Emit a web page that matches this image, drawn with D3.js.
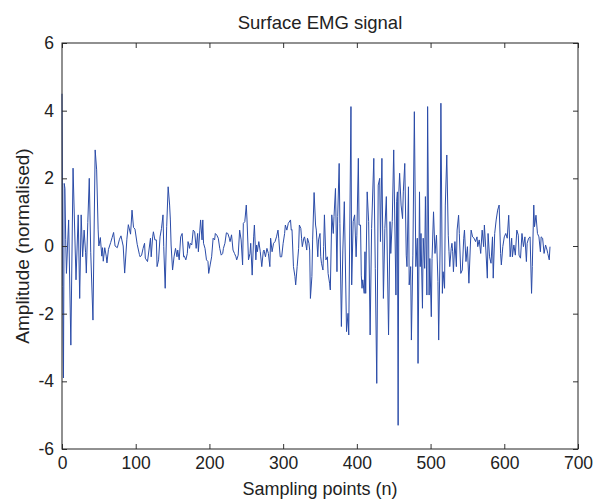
<!DOCTYPE html>
<html>
<head>
<meta charset="utf-8">
<script src="https://cdn.jsdelivr.net/npm/d3@7"></script>
<style>
  html, body { margin: 0; padding: 0; background: #fff; }
  svg { display: block; }
  text { font-family: "Liberation Sans", Arial, Helvetica, sans-serif; fill: #222; }
</style>
</head>
<body>
<svg id="chart" width="598" height="500"></svg>
<script>
// ---- data ----
const title = "Surface EMG signal";
const xLabel = "Sampling points (n)";
const yLabel = "Amplitude (normalised)";
const xTicks = [0, 100, 200, 300, 400, 500, 600, 700];
const yTicks = [-6, -4, -2, 0, 2, 4, 6];

const sampleIndex = [
  0,1,2,3,4,5,6,9,12,15,19,22,24,26,28,30,32,33,35,37,39,42,45,47,49,50,52,54,55,56,58,60,61,63,66,68,70,72,75,78,80,83,85,88,90,93,95,97,99,102,105,
  106,108,110,112,113,116,118,120,121,123,124,126,128,129,131,133,135,137,138,140,142,144,146,147,148,150,152,154,156,157,159,161,163,165,166,168,170,171,173,174,176,178,180,182,184,185,187,188,190,191,192,194,196,198,199,201,203,205,207,208,210,212,214,216,218,219,221,223,225,227,228,
  230,232,234,236,237,239,241,243,245,246,248,250,251,253,255,256,258,260,261,263,264,265,267,269,271,273,274,276,278,280,282,283,285,287,289,291,293,294,296,298,300,302,303,305,307,
  310,311,312,314,316,317,319,321,322,324,325,326,328,329,331,332,333,335,336,337,339,340,342,344,345,347,348,350,351,352,354,355,356,358,360,361,363,364,366,368,369,371,373,374,376,377,379,381,383,386,
  388,389,392,393,395,397,399,400,402,403,405,406,407,408,410,411,412,414,416,418,420,423,425,427,429,431,432,434,436,438,440,443,445,446,448,450,453,454,455,456,457,
  458,460,462,463,465,467,468,470,471,473,474,476,478,480,482,483,485,486,487,489,490,492,493,495,496,498,499,501,502,504,506,508,510,511,513,514,516,517,519,520,522,524,525,526,528,529,530,531,533,
  535,536,538,539,541,543,545,546,548,550,552,554,555,557,559,561,563,564,566,568,570,572,573,575,577,578,580,582,584,585,587,589,591,593,595,596,598,600,602,604,606,608,610,611,613,615,617,619,620,
  622,624,626,628,630,631,633,635,637,638,640,641,643,645,647,649,650,652,654,656,658,659,661,662
];

const amplitude = [
  4.5,-1.2,-3.9,1.85,1.7,0.2,-0.81,0.77,-2.93,2.3,-1.0,0.92,-1.55,0.92,-0.32,0.47,-0.2,-0.8,0.7,2.0,-0.2,-2.19,2.84,2.25,0.5,0.0,0.25,-0.3,-0.05,-0.45,-0.05,-0.3,-0.5,-0.1,0.1,0.25,0.4,0.0,-0.05,0.2,0.3,0.0,-0.8,0.2,0.63,0.35,1.06,0.55,0.5,0.05,-0.25,
  -0.32,-0.27,-0.07,0.08,-0.36,-0.46,-0.12,0.23,-0.32,0.27,0.42,0.18,0.18,-0.61,-0.41,0.27,0.52,0.92,-0.02,-1.25,0.57,1.75,1.21,0.77,0.03,-0.71,-0.32,-0.07,-0.32,-0.12,-0.41,0.27,0.37,-0.32,-0.3,-0.41,-0.22,0.13,-0.07,0.08,0.03,0.47,0.42,-0.07,0.37,-0.17,0.47,0.77,0.18,0.77,0.08,-0.07,-0.41,-0.46,-0.81,-0.56,-0.32,0.23,0.18,0.37,0.32,0.23,-0.07,-0.27,-0.22,-0.07,0.08,0.39,0.37,0.23,0.13,
  0.33,-0.12,-0.22,-0.32,-0.41,-0.27,0.47,0.18,-0.56,0.67,0.72,1.21,0.77,-0.41,-0.22,0.08,-0.86,0.27,0.62,-0.41,0.03,-0.17,0.13,-0.17,-0.61,-0.17,-0.12,-0.32,-0.07,-0.22,-0.61,0.23,-0.17,0.08,0.13,0.27,0.47,0.23,-0.32,-0.32,0.08,0.37,0.62,0.47,0.67,
  0.77,0.47,0.49,-0.61,-0.9,-1.15,-0.61,-0.07,0.62,0.52,0.23,-0.02,0.23,0.27,0.03,-0.12,0.23,0.08,-0.12,-1.55,-0.9,0.18,1.58,0.62,0.47,-0.32,0.18,0.37,-0.32,-0.51,-0.71,-0.02,0.92,-0.41,-0.32,-0.81,-1.1,-1.3,0.92,0.37,0.87,1.7,-0.76,0.87,2.44,0.67,-2.38,-0.12,1.31,-2.53,
  -1.99,-2.63,4.12,-1.15,0.72,0.92,-0.32,0.32,2.59,0.62,0.62,-0.86,-1.25,-1.0,-1.4,-0.17,-1.4,1.6,0.72,-2.63,0.52,2.59,-0.66,-4.06,1.8,2.0,0.13,2.59,-1.55,0.52,1.46,-2.63,0.72,-0.22,0.72,2.84,-1.45,1.31,1.6,-5.3,1.6,
  2.15,1.21,0.81,1.6,2.44,-0.27,-0.61,1.75,-1.15,-0.61,-2.78,-0.27,3.97,-0.61,0.23,-3.47,1.6,-0.61,0.37,-1.84,0.23,-0.66,1.46,-1.45,4.12,-1.45,-0.37,-2.09,-0.37,1.01,-0.22,0.32,-1.05,-2.78,0.03,4.22,-1.4,-0.76,-1.25,1.21,2.69,0.32,-0.17,-0.61,-0.07,0.08,-0.17,-0.76,0.13,
  -0.61,0.47,0.91,0.37,-0.81,-0.71,0.23,0.47,-0.46,-0.02,-1.1,0.03,0.47,0.27,0.23,0.13,0.27,-0.02,0.18,-0.22,0.47,-0.02,0.62,-0.12,-0.95,0.37,-0.32,-0.51,0.27,-0.95,0.37,0.77,1.06,1.21,-0.22,-0.56,-0.02,0.27,0.37,0.23,0.91,-0.32,0.23,-0.32,0.03,-0.27,0.47,0.32,-0.27,
  -0.36,0.37,-0.02,0.27,-0.46,0.08,0.23,0.27,-1.4,-0.61,1.21,0.57,0.91,0.37,0.27,-0.17,0.27,0.23,-0.22,0.03,-0.12,-0.22,-0.41,-0.02
];

// ---- layout ----
const svg = d3.select("#chart");
const margin = { left: 62, right: 20, top: 43, bottom: 51 };
const W = 598, H = 500;
const plotW = W - margin.left - margin.right;
const plotH = H - margin.top - margin.bottom;

const x = d3.scaleLinear().domain([0, 700]).range([margin.left, margin.left + plotW]);
const y = d3.scaleLinear().domain([-6, 6]).range([margin.top + plotH, margin.top]);

const data = sampleIndex.map((n, i) => ({ n, v: amplitude[i] }));

// signal line
const line = d3.line().x(d => x(d.n)).y(d => y(d.v));
svg.append("path")
  .datum(data)
  .attr("d", line)
  .attr("fill", "none")
  .attr("stroke", "#2b4ca8")
  .attr("stroke-width", 1)
  .attr("stroke-linejoin", "miter");

// axes (MATLAB style: ticks inward on all sides)
const tickLen = 5;
const axisFont = "17.5px";
const fmt = d => (d < 0 ? "-" + Math.abs(d) : String(d));
const bottomAxis = d3.axisBottom(x).tickValues(xTicks).tickFormat(fmt).tickSizeInner(-tickLen).tickSizeOuter(0).tickPadding(8);
const topAxis = d3.axisTop(x).tickValues(xTicks).tickSizeInner(-tickLen).tickSizeOuter(0).tickFormat("");
const leftAxis = d3.axisLeft(y).tickValues(yTicks).tickFormat(fmt).tickSizeInner(-tickLen).tickSizeOuter(0).tickPadding(8);
const rightAxis = d3.axisRight(y).tickValues(yTicks).tickSizeInner(-tickLen).tickSizeOuter(0).tickFormat("");

function style(g) {
  g.select(".domain").remove();
  g.selectAll(".tick line").attr("stroke", "#333").attr("stroke-width", 1);
  g.selectAll(".tick text").style("font-size", axisFont).attr("fill", "#222")
    .style("font-family", "'Liberation Sans', Arial, sans-serif");
}

svg.append("g").attr("transform", `translate(0,${margin.top + plotH})`).call(bottomAxis).call(style);
svg.append("g").attr("transform", `translate(0,${margin.top})`).call(topAxis).call(style);
svg.append("g").attr("transform", `translate(${margin.left},0)`).call(leftAxis).call(style);
svg.append("g").attr("transform", `translate(${margin.left + plotW},0)`).call(rightAxis).call(style);

// box
svg.append("rect")
  .attr("x", margin.left).attr("y", margin.top)
  .attr("width", plotW).attr("height", plotH)
  .attr("fill", "none").attr("stroke", "#222").attr("stroke-width", 1);

// title and labels
svg.append("text")
  .attr("x", margin.left + plotW / 2).attr("y", 29)
  .attr("text-anchor", "middle").style("font-size", "18.5px")
  .text(title);

svg.append("text")
  .attr("x", margin.left + plotW / 2).attr("y", 495)
  .attr("text-anchor", "middle").style("font-size", "18px")
  .text(xLabel);

svg.append("text")
  .attr("transform", `translate(29,${margin.top + plotH / 2}) rotate(-90)`)
  .attr("text-anchor", "middle").style("font-size", "19px")
  .text(yLabel);
</script>
</body>
</html>
